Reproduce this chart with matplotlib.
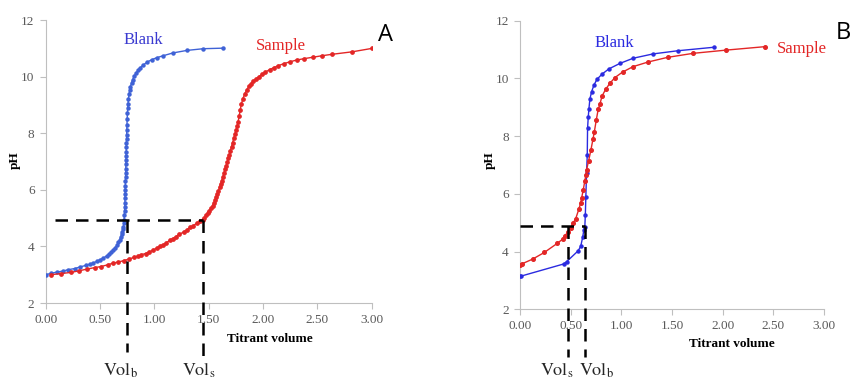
import matplotlib
matplotlib.use("Agg")
import matplotlib.pyplot as plt

# ---------------- data ----------------
blank_a_x = [0.00,0.05,0.10,0.16,0.21,0.27,0.32,0.37,0.41,0.44,0.47,0.50,0.53,0.56,0.58,0.60,0.62,0.64,0.655,0.67,
             0.68,0.69,0.70,0.705,0.71,0.715,0.72,0.722,0.724,0.726,0.728,0.729,0.730,0.731,0.732,0.733,0.734,0.735,
             0.736,0.737,0.738,0.739,0.740,0.741,0.742,0.743,0.744,0.745,0.746,0.748,0.750,0.752,0.755,0.758,0.762,
             0.767,0.773,0.780,0.79,0.80,0.815,0.83,0.85,0.87,0.90,0.935,0.975,1.02,1.08,1.17,1.30,1.45,1.635]
blank_a_ph = [3.00,3.05,3.09,3.13,3.18,3.22,3.28,3.33,3.38,3.42,3.47,3.53,3.59,3.66,3.72,3.79,3.87,3.96,4.04,4.14,
              4.23,4.33,4.44,4.52,4.61,4.70,4.82,4.95,5.10,5.25,5.40,5.55,5.70,5.85,6.00,6.15,6.30,6.45,
              6.60,6.75,6.90,7.05,7.20,7.35,7.50,7.65,7.80,7.95,8.10,8.30,8.50,8.70,8.88,9.05,9.22,
              9.38,9.52,9.65,9.78,9.90,10.02,10.12,10.23,10.32,10.42,10.52,10.60,10.67,10.74,10.84,10.93,10.99,11.01]

sample_a_x = [0.046,0.14,0.23,0.31,0.38,0.45,0.51,0.57,0.62,0.67,0.72,0.77,0.81,0.85,0.88,0.92,0.95,0.99,1.02,1.05,
              1.08,1.11,1.14,1.17,1.20,1.23,1.27,1.30,1.33,1.36,1.39,1.42,1.445,1.46,1.475,1.49,1.505,1.52,1.535,
              1.55,1.56,1.57,1.58,1.59,1.60,1.61,1.62,1.63,1.64,1.65,1.66,1.67,1.68,1.69,1.70,1.71,1.72,1.73,1.74,
              1.75,1.76,1.77,1.78,1.79,1.80,1.815,1.83,1.85,1.87,1.89,1.91,1.935,1.96,1.99,2.02,2.06,2.10,2.14,
              2.19,2.25,2.31,2.38,2.46,2.54,2.63,2.82,3.00]
sample_a_ph = [3.00,3.04,3.08,3.14,3.20,3.25,3.29,3.35,3.41,3.45,3.50,3.56,3.61,3.66,3.71,3.75,3.80,3.87,3.94,4.00,
               4.06,4.13,4.21,4.28,4.35,4.43,4.51,4.59,4.67,4.74,4.82,4.89,4.94,5.02,5.10,5.18,5.27,5.35,5.44,
               5.55,5.65,5.75,5.86,5.97,6.09,6.21,6.33,6.46,6.59,6.72,6.85,6.98,7.11,7.25,7.39,7.53,7.67,7.82,7.96,
               8.10,8.24,8.40,8.60,8.82,9.03,9.22,9.38,9.53,9.66,9.76,9.84,9.92,10.00,10.08,10.16,10.25,10.32,10.39,
               10.46,10.53,10.59,10.64,10.69,10.74,10.79,10.88,11.00]

blank_b_x = [0.00,0.01,0.43,0.46,0.575,0.60,0.62,0.63,0.64,0.645,0.65,0.657,0.664,0.667,0.674,0.68,0.69,0.707,
             0.73,0.76,0.81,0.877,0.986,1.117,1.314,1.56,1.913]
blank_b_ph = [3.15,3.15,3.57,3.65,4.03,4.19,4.52,4.75,4.86,5.27,5.90,6.71,7.35,8.27,8.67,8.93,9.29,9.54,
              9.77,9.97,10.15,10.33,10.52,10.70,10.85,10.96,11.08]

sample_b_x = [0.00,0.016,0.125,0.24,0.37,0.42,0.44,0.477,0.50,0.526,0.549,0.58,0.598,0.608,0.624,0.64,0.65,0.657,
              0.677,0.70,0.72,0.733,0.753,0.772,0.789,0.81,0.845,0.887,0.937,1.012,1.117,1.265,1.456,1.71,2.03,2.415]
sample_b_ph = [3.54,3.57,3.74,3.97,4.29,4.43,4.54,4.69,4.83,5.00,5.13,5.46,5.67,5.85,6.13,6.45,6.65,6.83,
               7.14,7.52,7.89,8.13,8.56,8.93,9.11,9.39,9.62,9.83,10.03,10.22,10.41,10.57,10.73,10.87,10.98,11.10]

# equivalence readings (pH, Vol_b, Vol_s)
a_eq_ph, a_vol_b, a_vol_s = 4.94, 0.745, 1.45
b_eq_ph, b_vol_b, b_vol_s = 4.88, 0.64, 0.477

x_ticks = [0.00, 0.50, 1.00, 1.50, 2.00, 2.50, 3.00]
y_ticks = [2, 4, 6, 8, 10, 12]

# ---------------- style ----------------
plt.rcParams['mathtext.fontset'] = 'stix'
SERIF = 'Liberation Serif'
GRID_C = '#BFBFBF'
TICK_C = '#595959'
BLUE_A = '#3F62D6'
BLUE_B = '#2B2BE0'
RED = '#E32626'

fig = plt.figure(figsize=(8.52, 3.80), dpi=100)

def setup(ax):
    ax.set_xlim(0, 3)
    ax.set_ylim(2, 12)
    ax.set_xticks(x_ticks)
    ax.set_xticklabels([f"{v:.2f}" for v in x_ticks])
    ax.set_yticks(y_ticks)
    for s in ['top', 'right']:
        ax.spines[s].set_visible(False)
    for s in ['left', 'bottom']:
        ax.spines[s].set_color(GRID_C)
        ax.spines[s].set_linewidth(0.8)
    ax.tick_params(direction='out', length=4, width=0.8, color=GRID_C,
                   labelcolor=TICK_C, labelsize=9.5, pad=4)
    for lab in ax.get_xticklabels() + ax.get_yticklabels():
        lab.set_family(SERIF)
    ax.patch.set_alpha(0)

def dashed(ax, eq_ph, x_start, vols, bottoms):
    ax.plot([x_start, max(vols)], [eq_ph, eq_ph], color='black', lw=1.8, dashes=(5, 3.2),
            clip_on=False, zorder=5)
    for v, b in zip(vols, bottoms):
        ax.plot([v, v], [eq_ph, b], color='black', lw=1.8, dashes=(5, 3.2), clip_on=False, zorder=5)

# ---- Panel A ----
axA = fig.add_axes([0.0536, 0.2026, 0.3827, 0.7444])
setup(axA)
axA.plot(blank_a_x, blank_a_ph, color=BLUE_A, lw=1.0, marker='o', ms=2.2, zorder=3)
axA.plot(sample_a_x, sample_a_ph, color=RED, lw=1.0, marker='o', ms=2.4, zorder=3)
dashed(axA, a_eq_ph, 0.09, [a_vol_b, a_vol_s], [0.27, -0.05])
axA.text(0.90, 11.0, 'Blank', color='#3A3AD0', fontsize=12, family=SERIF, ha='center', va='bottom')
axA.text(2.16, 10.82, 'Sample', color=RED, fontsize=12, family=SERIF, ha='center', va='bottom')
fig.text(15/852, 1-160/380, 'pH', family=SERIF, fontweight='bold', fontsize=9.5, rotation=90,
         ha='center', va='center')
fig.text(270/852, 1-339/380, 'Titrant volume', family=SERIF, fontweight='bold', fontsize=9.5,
         ha='center', va='center')
fig.text(121/852, 1-371/380, r'$\mathrm{Vol}_\mathrm{b}$', fontsize=13, ha='center', va='center', color='#262626')
fig.text(199/852, 1-371/380, r'$\mathrm{Vol}_\mathrm{s}$', fontsize=13, ha='center', va='center', color='#262626')
fig.text(385/852, 1-35/380, 'A', family='Open Sans', fontsize=17, ha='center', va='center')

# ---- Panel B ----
axB = fig.add_axes([0.6103, 0.1860, 0.3568, 0.7595])
setup(axB)
axB.plot(blank_b_x, blank_b_ph, color=BLUE_B, lw=1.0, marker='o', ms=2.2, zorder=3)
axB.plot(sample_b_x, sample_b_ph, color=RED, lw=1.0, marker='o', ms=2.6, zorder=3)
dashed(axB, b_eq_ph, 0.0, [b_vol_s, b_vol_b], [0.35, 0.35])
axB.text(0.93, 10.95, 'Blank', color='#2B2BE0', fontsize=12, family=SERIF, ha='center', va='bottom')
axB.text(2.78, 10.75, 'Sample', color=RED, fontsize=12, family=SERIF, ha='center', va='bottom')
fig.text(490/852, 1-160/380, 'pH', family=SERIF, fontweight='bold', fontsize=9.5, rotation=90,
         ha='center', va='center')
fig.text(732/852, 1-344/380, 'Titrant volume', family=SERIF, fontweight='bold', fontsize=9.5,
         ha='center', va='center')
fig.text(557/852, 1-371/380, r'$\mathrm{Vol}_\mathrm{s}$', fontsize=13, ha='center', va='center', color='#262626')
fig.text(597/852, 1-371/380, r'$\mathrm{Vol}_\mathrm{b}$', fontsize=13, ha='center', va='center', color='#262626')
fig.text(843/852, 1-33/380, 'B', family='Open Sans', fontsize=17, ha='center', va='center')

fig.savefig('out.png', dpi=100)
